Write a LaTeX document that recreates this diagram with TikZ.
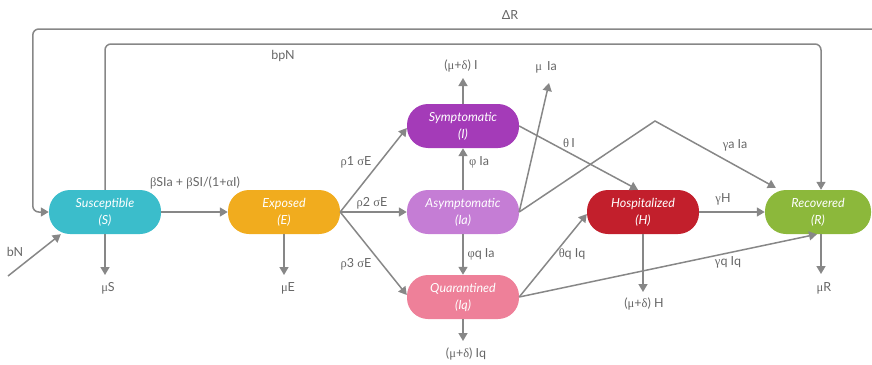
\documentclass[tikz,border=0pt]{standalone}
\usepackage{fontspec}
\setmainfont{Lato}
\newfontfamily\gkfont{Liberation Serif}
\newcommand{\gk}[1]{{\gkfont #1}}
\usetikzlibrary{arrows.meta}
\definecolor{cS}{HTML}{3BBDCB}
\definecolor{cE}{HTML}{F1AC1E}
\definecolor{cI}{HTML}{A43BB8}
\definecolor{cIa}{HTML}{C57DD5}
\definecolor{cIq}{HTML}{EE8099}
\definecolor{cH}{HTML}{C21F2C}
\definecolor{cR}{HTML}{8CB83B}
\definecolor{ln}{HTML}{878787}
\definecolor{lb}{HTML}{666666}
\begin{document}
\begin{tikzpicture}[x=1pt,y=-1pt,
  comp/.style={fill=#1, rounded corners=21pt, minimum width=112pt, minimum height=44pt,
    text=white, font=\fontsize{12.5}{17}\selectfont\itshape, align=center, inner sep=0pt},
  flow/.style={draw=ln, line width=1.5pt, -{Triangle[length=8pt,width=9pt]}},
  lab/.style={text=lb, font=\fontsize{12.5}{14}\selectfont, inner sep=1pt}]
\useasboundingbox (0,0) rectangle (872,364);

% compartments
\node[comp=cS] (S) at (105,212) {Susceptible\\(S)};
\node[comp=cE] (E) at (284,212) {Exposed\\(E)};
\node[comp=cI] (I) at (463,126) {Symptomatic\\(I)};
\node[comp=cIa] (Ia) at (463,212) {Asymptomatic\\(Ia)};
\node[comp=cIq] (Iq) at (463,297) {Quarantined\\(Iq)};
\node[comp=cH] (H) at (643,212) {Hospitalized\\(H)};
\node[comp=cR, minimum width=106pt] (R) at (818,212) {Recovered\\(R)};

% free ends
\coordinate (dR0) at (872,29);
\coordinate (bpc) at (821,44);
\coordinate (bN0) at (8,276);
\coordinate (eS) at (105,275);
\coordinate (eE) at (284,275);
\coordinate (eI) at (463,78);
\coordinate (eIa) at (549,83);
\coordinate (peak) at (655,121);
\coordinate (eH) at (643,292);
\coordinate (eIq) at (463,341);
\coordinate (eR) at (821,274);

% loops
\draw[flow, rounded corners=6pt] (dR0) -| ([xshift=-16pt]S.west) -- (S.west);
\draw[flow, rounded corners=6pt] (S.north) |- (bpc) -- ([xshift=3pt]R.north);
\draw[flow] (bN0) -- ([xshift=12pt]S.south west);

% main flows
\draw[flow] (S.east) -- (E.west);
\draw[flow] (E.east) -- ([yshift=-2pt]I.west);
\draw[flow] (E.east) -- (Ia.west);
\draw[flow] (E.east) -- ([yshift=2pt]Iq.west);
\draw[flow] (Ia.north) -- (I.south);
\draw[flow] (Ia.south) -- (Iq.north);
\draw[flow] (I.east) -- ([xshift=-5pt]H.north);
\draw[flow] (Ia.east) -- (eIa);
\draw[flow] (Ia.east) -- (peak) -- ([xshift=11pt,yshift=2pt]R.north west);
\draw[flow] (Iq.east) -- ([yshift=-2pt]H.west);
\draw[flow] (Iq.east) -- ([xshift=-1pt]R.south);
\draw[flow] (H.east) -- (R.west);

% outflows
\draw[flow] (S.south) -- (eS);
\draw[flow] (E.south) -- (eE);
\draw[flow] (I.north) -- (eI);
\draw[flow] (H.south) -- (eH);
\draw[flow] (Iq.south) -- (eIq);
\draw[flow] ([xshift=3pt]R.south) -- (eR);

% labels
\node[lab] (lDR) at (510,15) {ΔR};
\node[lab] (lbpN) at (283,56) {bpN};
\node[lab] (lbN) at (15,252) {bN};
\node[lab] (lmS) at (108,288) {\gk{μ}S};
\node[lab] (lmE) at (288,288) {\gk{μ}E};
\node[lab] (linf) at (195,183) {\gk{β}SIa + \gk{β}SI/(1+\gk{α}I)};
\node[lab] (lr1) at (356,162) {\gk{ρ}1 \gk{σ}E};
\node[lab] (lr2) at (372,203) {\gk{ρ}2 \gk{σ}E};
\node[lab] (lr3) at (356,264) {\gk{ρ}3 \gk{σ}E};
\node[lab] (lphi) at (479,162) {\gk{φ} Ia};
\node[lab] (lphq) at (481,254) {\gk{φ}q Ia};
\node[lab] (lmdI) at (461,66) {(\gk{μ}+\gk{δ}) I};
\node[lab] (lmIa) at (546,67) {\gk{μ}\, Ia};
\node[lab] (lthI) at (569,143) {\gk{θ}\,I};
\node[lab] (lgaIa) at (735,145) {\gk{γ}a Ia};
\node[lab] (lgH) at (723,199) {\gk{γ}H};
\node[lab] (lthq) at (572,254) {\gk{θ}q Iq};
\node[lab] (lgq) at (728,262) {\gk{γ}q Iq};
\node[lab] (lmdH) at (644,304) {(\gk{μ}+\gk{δ}) H};
\node[lab] (lmdIq) at (466,354) {(\gk{μ}+\gk{δ}) Iq};
\node[lab] (lmR) at (824,288) {\gk{μ}R};
\end{tikzpicture}
\end{document}
